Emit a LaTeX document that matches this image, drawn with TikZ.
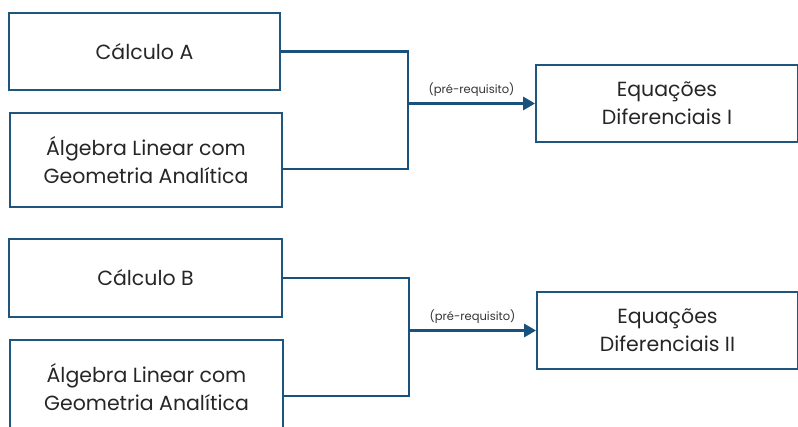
\documentclass[tikz,border=0pt]{standalone}
\usepackage{fontspec}
\setmainfont{Poppins}
\usetikzlibrary{arrows.meta}
\definecolor{boxblue}{RGB}{30,86,128}
\definecolor{linkblue}{RGB}{24,82,124}
\begin{document}
\begin{tikzpicture}[x=1pt,y=-1pt,
  course/.style={draw=boxblue,line width=1.8pt,align=center,inner sep=0pt,
    font=\fontsize{20.5}{28}\selectfont,text=black!85},
  link/.style={draw=linkblue,line width=2.6pt},
  req/.style={draw=linkblue,line width=3pt,-{Triangle[length=12pt,width=13pt]}},
  reqlabel/.style={font=\fontsize{11.5}{13}\selectfont,text=black!80}]
\useasboundingbox (0,0) rectangle (798,427);
\begin{scope}
\clip (0,0) rectangle (798,427);
% top group
\node[course,minimum width=271pt,minimum height=77pt] (A1) at (144.5,51.5) {Cálculo A};
\node[course,minimum width=272pt,minimum height=94pt] (A2) at (146,160) {Álgebra Linear com\\Geometria Analítica};
\node[course,minimum width=262pt,minimum height=77pt] (E1) at (667,103.5) {Equações\\Diferenciais I};
\coordinate (JA) at (408,103.5);
\draw[link] (A1.east) -| (JA);
\draw[link] ([yshift=-9pt]A2.east) -| (JA);
\draw[req] (JA) -- node[reqlabel,above=2pt]{(pré-requisito)} (E1.west);
% bottom group
\node[course,minimum width=273pt,minimum height=78pt] (B1) at (145.5,278) {Cálculo B};
\node[course,minimum width=273pt,minimum height=94pt] (B2) at (146.5,387) {Álgebra Linear com\\Geometria Analítica};
\node[course,minimum width=261pt,minimum height=77pt] (E2) at (667.5,330.5) {Equações\\Diferenciais II};
\coordinate (JB) at (409,330.5);
\draw[link] (B1.east) -| (JB);
\draw[link] ([yshift=-9pt]B2.east) -| (JB);
\draw[req] (JB) -- node[reqlabel,above=2pt]{(pré-requisito)} (E2.west);
\end{scope}
\end{tikzpicture}
\end{document}
